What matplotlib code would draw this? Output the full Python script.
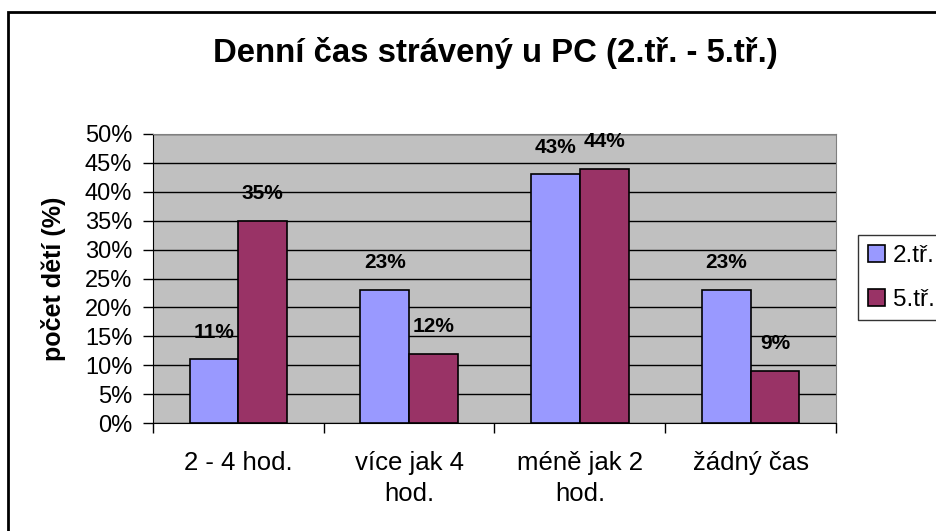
import numpy as np
import matplotlib
matplotlib.use("Agg")
import matplotlib.pyplot as plt
from matplotlib.patches import Rectangle
from matplotlib.ticker import FixedLocator

plt.rcParams['font.family'] = ['Liberation Sans', 'DejaVu Sans']

categories = ["2 - 4 hod.", "více jak 4\nhod.", "méně jak 2\nhod.", "žádný čas"]
series_names = ["2.tř.", "5.tř."]
values_2 = [11, 23, 43, 23]
values_5 = [35, 12, 44, 9]
colors = ["#9999FF", "#993366"]

fig = plt.figure(figsize=(9.37, 5.31), dpi=100)
fig.patch.set_facecolor("white")

# outer chart border (runs off the right and bottom edge)
fig.add_artist(Rectangle((8 / 937, -0.05), 1.1, 1 - 12 / 531 + 0.05,
                         transform=fig.transFigure, fill=False,
                         edgecolor="black", linewidth=2, clip_on=False))

ax = fig.add_axes([153 / 937, 108 / 531, 683 / 937, 289 / 531])
ax.set_facecolor("#C0C0C0")

x = np.arange(len(categories))
w = 1 / 3.5
b1 = ax.bar(x - w / 2, values_2, w, color=colors[0], edgecolor="black",
            linewidth=1.2, label=series_names[0], zorder=3)
b2 = ax.bar(x + w / 2, values_5, w, color=colors[1], edgecolor="black",
            linewidth=1.2, label=series_names[1], zorder=3)

for bars, vals in ((b1, values_2), (b2, values_5)):
    for r, v in zip(bars, vals):
        ax.annotate(f"{v}%", (r.get_x() + r.get_width() / 2, v),
                    xytext=(0, 19.5), textcoords="offset points",
                    ha="center", va="center", fontsize=15,
                    fontweight="bold", zorder=4)

ax.set_xlim(-0.5, len(categories) - 0.5)
ax.set_ylim(0, 50)
ax.set_yticks(np.arange(0, 51, 5))
ax.set_yticklabels([f"{t}%" for t in range(0, 51, 5)], fontsize=17)
ax.yaxis.grid(True, color="black", linewidth=1, zorder=1)
ax.set_axisbelow(True)

ax.set_xticks(x)
ax.set_xticklabels(categories, fontsize=18.5, linespacing=1.4)
ax.xaxis.set_minor_locator(FixedLocator(np.arange(-0.5, len(categories), 1)))
ax.tick_params(axis="x", which="major", length=0, pad=20)
ax.tick_params(axis="x", which="minor", length=7, width=1, direction="out")
ax.tick_params(axis="y", length=7, width=1, direction="out", pad=8)

for s in ("top", "right"):
    ax.spines[s].set_color("#808080")
for s in ("left", "bottom"):
    ax.spines[s].set_color("black")

ax.set_ylabel("počet dětí (%)", fontsize=18, fontweight="bold")
ax.yaxis.set_label_coords(-0.127, 0.5)

fig.text(495 / 937, 1 - 53 / 531, "Denní čas strávený u PC (2.tř. - 5.tř.)",
         ha="center", va="center", fontsize=23.7, fontweight="bold")

leg = fig.legend(handles=[b1, b2], labels=series_names,
                 loc="upper left", bbox_to_anchor=(858 / 937, 1 - 235 / 531),
                 frameon=True, fancybox=False, edgecolor="black",
                 fontsize=17.5, handlelength=0.7, handleheight=0.7,
                 handletextpad=0.35, borderpad=0.4, labelspacing=0.9,
                 borderaxespad=0)
leg.get_frame().set_linewidth(1)

fig.savefig("out.png", dpi=100)
